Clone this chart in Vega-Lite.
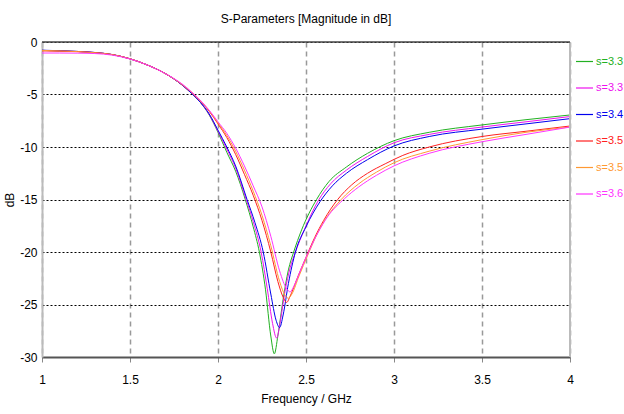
{
  "$schema": "https://vega.github.io/schema/vega-lite/v6.json",
  "width": 528,
  "height": 315,
  "autosize": "none",
  "padding": {"left": 42, "top": 42, "right": 54, "bottom": 57},
  "background": "white",
  "config": {
    "font": "Liberation Sans, sans-serif",
    "view": {"stroke": null}
  },
  "title": {
    "text": "S-Parameters [Magnitude in dB]",
    "fontSize": 12,
    "fontWeight": "normal",
    "color": "#000",
    "anchor": "middle",
    "offset": 10,
    "font": "Liberation Sans, sans-serif"
  },
  "datasets": {
    "curves": [
      {"s": "s=3.30", "f": 1.0, "db": -0.8}, {"s": "s=3.30", "f": 1.1, "db": -0.84}, {"s": "s=3.30", "f": 1.2, "db": -0.9}, {"s": "s=3.30", "f": 1.3, "db": -1.0}, {"s": "s=3.30", "f": 1.4, "db": -1.2}, {"s": "s=3.30", "f": 1.5, "db": -1.6}, {"s": "s=3.30", "f": 1.6, "db": -2.2}, {"s": "s=3.30", "f": 1.7, "db": -3.0}, {"s": "s=3.30", "f": 1.8, "db": -4.15}, {"s": "s=3.30", "f": 1.85, "db": -4.9}, {"s": "s=3.30", "f": 1.9, "db": -5.75}, {"s": "s=3.30", "f": 1.95, "db": -6.95}, {"s": "s=3.30", "f": 2.0, "db": -8.6}, {"s": "s=3.30", "f": 2.05, "db": -10.5}, {"s": "s=3.30", "f": 2.1, "db": -12.3}, {"s": "s=3.30", "f": 2.155, "db": -15.0}, {"s": "s=3.30", "f": 2.2, "db": -17.6}, {"s": "s=3.30", "f": 2.235, "db": -20.0}, {"s": "s=3.30", "f": 2.27, "db": -23.6}, {"s": "s=3.30", "f": 2.3, "db": -28.0}, {"s": "s=3.30", "f": 2.32, "db": -29.7}, {"s": "s=3.30", "f": 2.34, "db": -28.0}, {"s": "s=3.30", "f": 2.37, "db": -24.5}, {"s": "s=3.30", "f": 2.4, "db": -21.7}, {"s": "s=3.30", "f": 2.43, "db": -20.0}, {"s": "s=3.30", "f": 2.475, "db": -17.9}, {"s": "s=3.30", "f": 2.56, "db": -15.0}, {"s": "s=3.30", "f": 2.63, "db": -13.3}, {"s": "s=3.30", "f": 2.73, "db": -11.9}, {"s": "s=3.30", "f": 2.85, "db": -10.6}, {"s": "s=3.30", "f": 3.0, "db": -9.4}, {"s": "s=3.30", "f": 3.2, "db": -8.6}, {"s": "s=3.30", "f": 3.5, "db": -7.9}, {"s": "s=3.30", "f": 3.75, "db": -7.4}, {"s": "s=3.30", "f": 4.0, "db": -6.95},

      {"s": "s=3.35", "f": 1.0, "db": -0.8}, {"s": "s=3.35", "f": 1.1, "db": -0.84}, {"s": "s=3.35", "f": 1.2, "db": -0.9}, {"s": "s=3.35", "f": 1.3, "db": -1.0}, {"s": "s=3.35", "f": 1.4, "db": -1.2}, {"s": "s=3.35", "f": 1.5, "db": -1.6}, {"s": "s=3.35", "f": 1.6, "db": -2.2}, {"s": "s=3.35", "f": 1.7, "db": -3.0}, {"s": "s=3.35", "f": 1.8, "db": -4.15}, {"s": "s=3.35", "f": 1.85, "db": -4.9}, {"s": "s=3.35", "f": 1.9, "db": -5.75}, {"s": "s=3.35", "f": 1.95, "db": -6.9}, {"s": "s=3.35", "f": 2.0, "db": -8.5}, {"s": "s=3.35", "f": 2.05, "db": -10.2}, {"s": "s=3.35", "f": 2.1, "db": -12.0}, {"s": "s=3.35", "f": 2.16, "db": -15.0}, {"s": "s=3.35", "f": 2.2, "db": -17.1}, {"s": "s=3.35", "f": 2.245, "db": -20.0}, {"s": "s=3.35", "f": 2.28, "db": -23.5}, {"s": "s=3.35", "f": 2.31, "db": -26.8}, {"s": "s=3.35", "f": 2.333, "db": -28.2}, {"s": "s=3.35", "f": 2.355, "db": -26.5}, {"s": "s=3.35", "f": 2.38, "db": -23.8}, {"s": "s=3.35", "f": 2.41, "db": -21.5}, {"s": "s=3.35", "f": 2.44, "db": -20.0}, {"s": "s=3.35", "f": 2.49, "db": -17.9}, {"s": "s=3.35", "f": 2.57, "db": -15.1}, {"s": "s=3.35", "f": 2.64, "db": -13.5}, {"s": "s=3.35", "f": 2.73, "db": -12.2}, {"s": "s=3.35", "f": 2.85, "db": -10.9}, {"s": "s=3.35", "f": 3.0, "db": -9.6}, {"s": "s=3.35", "f": 3.2, "db": -8.8}, {"s": "s=3.35", "f": 3.5, "db": -8.1}, {"s": "s=3.35", "f": 3.75, "db": -7.6}, {"s": "s=3.35", "f": 4.0, "db": -7.1},

      {"s": "s=3.40", "f": 1.0, "db": -0.78}, {"s": "s=3.40", "f": 1.1, "db": -0.83}, {"s": "s=3.40", "f": 1.2, "db": -0.9}, {"s": "s=3.40", "f": 1.3, "db": -1.0}, {"s": "s=3.40", "f": 1.4, "db": -1.2}, {"s": "s=3.40", "f": 1.5, "db": -1.6}, {"s": "s=3.40", "f": 1.6, "db": -2.2}, {"s": "s=3.40", "f": 1.7, "db": -3.0}, {"s": "s=3.40", "f": 1.8, "db": -4.15}, {"s": "s=3.40", "f": 1.85, "db": -4.9}, {"s": "s=3.40", "f": 1.9, "db": -5.75}, {"s": "s=3.40", "f": 1.95, "db": -6.85}, {"s": "s=3.40", "f": 2.0, "db": -8.4}, {"s": "s=3.40", "f": 2.05, "db": -10.0}, {"s": "s=3.40", "f": 2.1, "db": -11.8}, {"s": "s=3.40", "f": 2.165, "db": -15.0}, {"s": "s=3.40", "f": 2.21, "db": -17.2}, {"s": "s=3.40", "f": 2.257, "db": -20.0}, {"s": "s=3.40", "f": 2.3, "db": -24.0}, {"s": "s=3.40", "f": 2.33, "db": -26.5}, {"s": "s=3.40", "f": 2.35, "db": -27.2}, {"s": "s=3.40", "f": 2.37, "db": -26.0}, {"s": "s=3.40", "f": 2.4, "db": -23.0}, {"s": "s=3.40", "f": 2.44, "db": -20.0}, {"s": "s=3.40", "f": 2.5, "db": -17.6}, {"s": "s=3.40", "f": 2.58, "db": -15.2}, {"s": "s=3.40", "f": 2.65, "db": -13.7}, {"s": "s=3.40", "f": 2.73, "db": -12.5}, {"s": "s=3.40", "f": 2.85, "db": -11.2}, {"s": "s=3.40", "f": 3.0, "db": -9.9}, {"s": "s=3.40", "f": 3.2, "db": -9.0}, {"s": "s=3.40", "f": 3.5, "db": -8.3}, {"s": "s=3.40", "f": 3.75, "db": -7.8}, {"s": "s=3.40", "f": 4.0, "db": -7.3},

      {"s": "s=3.50", "f": 1.0, "db": -0.85}, {"s": "s=3.50", "f": 1.1, "db": -0.87}, {"s": "s=3.50", "f": 1.2, "db": -0.92}, {"s": "s=3.50", "f": 1.3, "db": -1.02}, {"s": "s=3.50", "f": 1.4, "db": -1.2}, {"s": "s=3.50", "f": 1.5, "db": -1.6}, {"s": "s=3.50", "f": 1.6, "db": -2.2}, {"s": "s=3.50", "f": 1.7, "db": -3.0}, {"s": "s=3.50", "f": 1.8, "db": -4.1}, {"s": "s=3.50", "f": 1.85, "db": -4.8}, {"s": "s=3.50", "f": 1.9, "db": -5.6}, {"s": "s=3.50", "f": 1.95, "db": -6.6}, {"s": "s=3.50", "f": 2.0, "db": -7.8}, {"s": "s=3.50", "f": 2.05, "db": -9.1}, {"s": "s=3.50", "f": 2.1, "db": -10.7}, {"s": "s=3.50", "f": 2.15, "db": -12.6}, {"s": "s=3.50", "f": 2.2, "db": -14.6}, {"s": "s=3.50", "f": 2.25, "db": -17.0}, {"s": "s=3.50", "f": 2.3, "db": -20.0}, {"s": "s=3.50", "f": 2.34, "db": -22.8}, {"s": "s=3.50", "f": 2.37, "db": -24.3}, {"s": "s=3.50", "f": 2.39, "db": -24.8}, {"s": "s=3.50", "f": 2.41, "db": -24.2}, {"s": "s=3.50", "f": 2.45, "db": -22.5}, {"s": "s=3.50", "f": 2.5, "db": -20.5}, {"s": "s=3.50", "f": 2.55, "db": -18.6}, {"s": "s=3.50", "f": 2.6, "db": -17.0}, {"s": "s=3.50", "f": 2.68, "db": -15.0}, {"s": "s=3.50", "f": 2.76, "db": -13.6}, {"s": "s=3.50", "f": 2.85, "db": -12.5}, {"s": "s=3.50", "f": 2.95, "db": -11.6}, {"s": "s=3.50", "f": 3.05, "db": -10.8}, {"s": "s=3.50", "f": 3.2, "db": -10.0}, {"s": "s=3.50", "f": 3.5, "db": -9.0}, {"s": "s=3.50", "f": 3.75, "db": -8.5}, {"s": "s=3.50", "f": 4.0, "db": -8.0},

      {"s": "s=3.55", "f": 1.0, "db": -0.8}, {"s": "s=3.55", "f": 1.1, "db": -0.85}, {"s": "s=3.55", "f": 1.2, "db": -0.91}, {"s": "s=3.55", "f": 1.3, "db": -1.02}, {"s": "s=3.55", "f": 1.4, "db": -1.2}, {"s": "s=3.55", "f": 1.5, "db": -1.6}, {"s": "s=3.55", "f": 1.6, "db": -2.2}, {"s": "s=3.55", "f": 1.7, "db": -3.0}, {"s": "s=3.55", "f": 1.8, "db": -4.1}, {"s": "s=3.55", "f": 1.85, "db": -4.8}, {"s": "s=3.55", "f": 1.9, "db": -5.6}, {"s": "s=3.55", "f": 1.95, "db": -6.55}, {"s": "s=3.55", "f": 2.0, "db": -7.7}, {"s": "s=3.55", "f": 2.05, "db": -8.9}, {"s": "s=3.55", "f": 2.1, "db": -10.4}, {"s": "s=3.55", "f": 2.15, "db": -12.2}, {"s": "s=3.55", "f": 2.2, "db": -14.2}, {"s": "s=3.55", "f": 2.25, "db": -16.5}, {"s": "s=3.55", "f": 2.3, "db": -19.4}, {"s": "s=3.55", "f": 2.35, "db": -22.8}, {"s": "s=3.55", "f": 2.38, "db": -24.1}, {"s": "s=3.55", "f": 2.4, "db": -24.4}, {"s": "s=3.55", "f": 2.42, "db": -24.0}, {"s": "s=3.55", "f": 2.46, "db": -22.3}, {"s": "s=3.55", "f": 2.51, "db": -20.3}, {"s": "s=3.55", "f": 2.56, "db": -18.4}, {"s": "s=3.55", "f": 2.61, "db": -16.9}, {"s": "s=3.55", "f": 2.7, "db": -15.0}, {"s": "s=3.55", "f": 2.8, "db": -13.5}, {"s": "s=3.55", "f": 2.9, "db": -12.4}, {"s": "s=3.55", "f": 3.0, "db": -11.5}, {"s": "s=3.55", "f": 3.2, "db": -10.4}, {"s": "s=3.55", "f": 3.5, "db": -9.3}, {"s": "s=3.55", "f": 3.75, "db": -8.6}, {"s": "s=3.55", "f": 4.0, "db": -8.1},

      {"s": "s=3.60", "f": 1.0, "db": -1.05}, {"s": "s=3.60", "f": 1.1, "db": -1.05}, {"s": "s=3.60", "f": 1.2, "db": -1.06}, {"s": "s=3.60", "f": 1.3, "db": -1.1}, {"s": "s=3.60", "f": 1.4, "db": -1.25}, {"s": "s=3.60", "f": 1.5, "db": -1.62}, {"s": "s=3.60", "f": 1.6, "db": -2.2}, {"s": "s=3.60", "f": 1.7, "db": -3.0}, {"s": "s=3.60", "f": 1.8, "db": -4.05}, {"s": "s=3.60", "f": 1.85, "db": -4.75}, {"s": "s=3.60", "f": 1.9, "db": -5.55}, {"s": "s=3.60", "f": 1.95, "db": -6.5}, {"s": "s=3.60", "f": 2.0, "db": -7.6}, {"s": "s=3.60", "f": 2.05, "db": -8.7}, {"s": "s=3.60", "f": 2.1, "db": -10.1}, {"s": "s=3.60", "f": 2.15, "db": -11.8}, {"s": "s=3.60", "f": 2.2, "db": -13.7}, {"s": "s=3.60", "f": 2.25, "db": -15.7}, {"s": "s=3.60", "f": 2.3, "db": -18.5}, {"s": "s=3.60", "f": 2.35, "db": -21.8}, {"s": "s=3.60", "f": 2.39, "db": -23.5}, {"s": "s=3.60", "f": 2.41, "db": -23.8}, {"s": "s=3.60", "f": 2.43, "db": -23.3}, {"s": "s=3.60", "f": 2.47, "db": -21.7}, {"s": "s=3.60", "f": 2.52, "db": -19.8}, {"s": "s=3.60", "f": 2.57, "db": -18.1}, {"s": "s=3.60", "f": 2.62, "db": -16.7}, {"s": "s=3.60", "f": 2.72, "db": -14.9}, {"s": "s=3.60", "f": 2.8, "db": -13.8}, {"s": "s=3.60", "f": 2.9, "db": -12.7}, {"s": "s=3.60", "f": 3.0, "db": -11.8}, {"s": "s=3.60", "f": 3.2, "db": -10.6}, {"s": "s=3.60", "f": 3.5, "db": -9.5}, {"s": "s=3.60", "f": 3.75, "db": -8.8}, {"s": "s=3.60", "f": 4.0, "db": -8.1}
    ],
    "borders": [{"f": 4, "db": 0}]
  },
  "layer": [
    {
      "data": {"name": "curves"},
      "mark": {"type": "line", "strokeWidth": 1, "interpolate": "monotone", "clip": true},
      "encoding": {
        "x": {
          "field": "f", "type": "quantitative",
          "scale": {"domain": [1, 4], "nice": false, "zero": false},
          "axis": {
            "title": "Frequency / GHz",
            "values": [1, 1.5, 2, 2.5, 3, 3.5, 4],
            "labelExpr": "toString(datum.value)",
            "labelFontSize": 12, "labelColor": "#000", "labelPadding": 12, "labelFlush": false,
            "titleFontSize": 12, "titleFontWeight": "normal", "titleColor": "#000", "titlePadding": 8,
            "domainColor": "#555", "domainWidth": 2,
            "tickColor": "#888", "tickSize": 5, "tickWidth": 1,
            "grid": true, "gridColor": "#999", "gridDash": [5, 4], "gridWidth": 1.5, "gridOpacity": 1
          }
        },
        "y": {
          "field": "db", "type": "quantitative",
          "scale": {"domain": [-30, 0], "nice": false},
          "axis": {
            "title": "dB",
            "values": [0, -5, -10, -15, -20, -25, -30],
            "labelExpr": "toString(datum.value)",
            "labelFontSize": 12, "labelColor": "#000", "labelPadding": 5, "labelFlush": false,
            "titleFontSize": 12, "titleFontWeight": "normal", "titleColor": "#000", "titlePadding": 3,
            "domainColor": "#bbb", "domainWidth": 2,
            "ticks": false,
            "grid": true, "gridColor": "#000", "gridDash": [2, 2], "gridWidth": 1, "gridOpacity": 1
          }
        },
        "color": {
          "field": "s", "type": "nominal",
          "scale": {
            "domain": ["s=3.30", "s=3.35", "s=3.40", "s=3.50", "s=3.55", "s=3.60"],
            "range": ["#22b022", "#ee11ee", "#0000ee", "#ff2020", "#ff9933", "#ff33ff"]
          },
          "legend": {
            "title": null,
            "orient": "none",
            "legendX": 533,
            "legendY": 10,
            "symbolType": "stroke",
            "symbolSize": 289,
            "symbolStrokeWidth": 1.2,
            "labelFontSize": 11,
            "labelOffset": 2,
            "rowPadding": 11.5,
            "labelLimit": 200,
            "labelExpr": "slice(datum.label, 0, 5)",
            "encode": {"labels": {"update": {"fill": {"scale": "color", "field": "value"}}}}
          }
        }
      }
    },
    {
      "data": {"name": "borders"},
      "mark": {"type": "rule", "color": "#bbb", "strokeWidth": 2},
      "encoding": {"x": {"field": "f", "type": "quantitative"}}
    },
    {
      "data": {"name": "borders"},
      "mark": {"type": "rule", "color": "#444", "strokeWidth": 1.5},
      "encoding": {"y": {"field": "db", "type": "quantitative"}}
    }
  ]
}
